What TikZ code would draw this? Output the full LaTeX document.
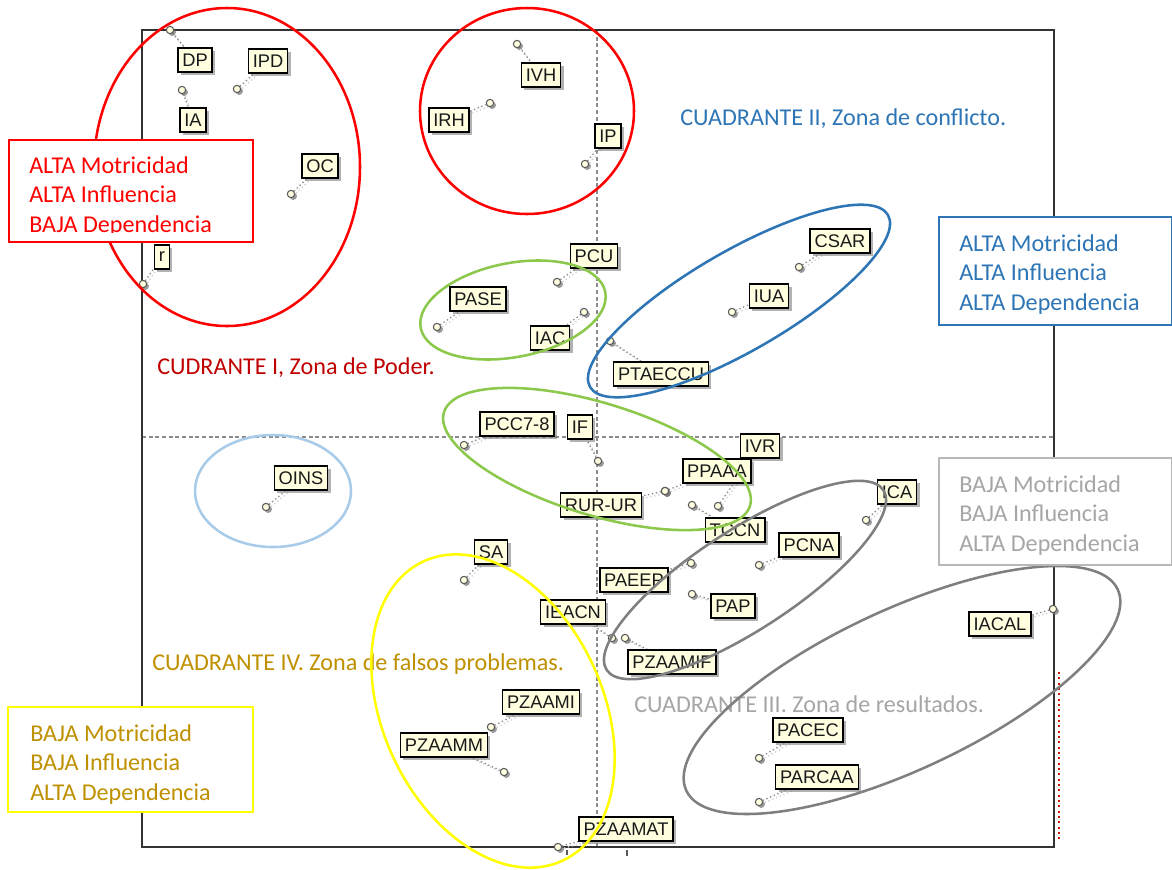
\documentclass[tikz,border=0pt]{standalone}
\usepackage{fontspec}
\setmainfont{Carlito}
\newfontfamily\labfamily{Liberation Sans}
\usetikzlibrary{shadows}
\definecolor{labfill}{HTML}{FFFFE0}
\definecolor{qred}{HTML}{FF0000}
\definecolor{qdarkred}{HTML}{C00000}
\definecolor{qblue}{HTML}{2E75B6}
\definecolor{qgray}{HTML}{A6A6A6}
\definecolor{qgold}{HTML}{BF9000}
\definecolor{qyellow}{HTML}{FFFF00}
\definecolor{egreen}{HTML}{8CC84B}
\definecolor{egray}{HTML}{7F7F7F}
\definecolor{elblue}{HTML}{A9CBEA}
\pgfdeclarelayer{bg}
\pgfdeclarelayer{fg}
\pgfsetlayers{bg,main,fg}
\begin{document}
\begin{tikzpicture}[x=0.75pt,y=-0.75pt,
  lab/.style={draw=black, line width=1.1pt, fill=labfill, text=black!90,
    font=\labfamily\fontsize{13.7}{16}\selectfont, inner xsep=3.3pt, inner ysep=0pt,
    minimum height=18pt,
    drop shadow={shadow xshift=2.2pt, shadow yshift=-2.2pt, fill=black!50, opacity=.6}},
  pt/.style={circle, draw=black!65, fill=labfill, line width=0.8pt, inner sep=0pt,
    minimum size=5.5pt,
    circular drop shadow={shadow xshift=1.4pt, shadow yshift=-1.4pt, fill=black!55, opacity=.7}},
  lead/.style={draw=black!45, dotted, line width=1pt},
  leadsh/.style={draw=black!18, dotted, line width=1pt},
  ell/.style={line width=1.9pt},
  callbox/.style={fill=white, line width=1.2pt},
  ctext/.style={font=\fontsize{18.1}{21}\selectfont, anchor=base west, inner sep=0pt},
  axis/.style={draw=black!45, line width=0.8pt, dash pattern=on 3pt off 2pt},
  frame/.style={draw=black!80, line width=1.2pt}]
\useasboundingbox (0,0) rectangle (1172,869);

% ---------- plot area ----------
\begin{pgfonlayer}{bg}
  \fill[white] (0,0) rectangle (1172,869);
  \draw[axis] (597,30) -- (597,847);
  \draw[axis] (142,437) -- (1054,437);
  \draw[frame] (142,30) rectangle (1054,847);
  \draw[qdarkred!80!orange, line width=1.3pt, dash pattern=on 1.5pt off 2.5pt] (1059,672) -- (1059,840);
  \draw[black!65, line width=0.9pt] (567,850) -- (567,855);
  \draw[black!65, line width=0.9pt] (627,850) -- (627,856);
\end{pgfonlayer}

% ---------- points ----------
\node[pt] (pDP) at (170,30) {};
\node[pt] (pIPD) at (237,89) {};
\node[pt] (pIA) at (182,90) {};
\node[pt] (pOC) at (291,194) {};
\node[pt] (pr) at (143,284) {};
\node[pt] (pIVH) at (517,44) {};
\node[pt] (pIRH) at (490,103) {};
\node[pt] (pIP) at (585,164) {};
\node[pt] (pPCU) at (557,282) {};
\node[pt] (pPASE) at (437,327) {};
\node[pt] (pIAC) at (584,312) {};
\node[pt] (pPTAECCU) at (610,341) {};
\node[pt] (pCSAR) at (799,267) {};
\node[pt] (pIUA) at (732,312) {};
\node[pt] (pPCC) at (464,445) {};
\node[pt] (pIF) at (598,461) {};
\node[pt] (pRUR) at (665,491) {};
\node[pt] (pPPAAA) at (665,491) {};
\node[pt] (pIVR) at (718,506) {};
\node[pt] (pTCCN) at (692,505) {};
\node[pt] (pICA) at (866,520) {};
\node[pt] (pPCNA) at (759,565) {};
\node[pt] (pPAEEP) at (691,563) {};
\node[pt] (pPAP) at (692,594) {};
\node[pt] (pIEACN) at (612,638) {};
\node[pt] (pPZAAMIF) at (625,638) {};
\node[pt] (pSA) at (464,580) {};
\node[pt] (pOINS) at (266,507) {};
\node[pt] (pIACAL) at (1053,609) {};
\node[pt] (pPACEC) at (759,758) {};
\node[pt] (pPARCAA) at (759,802) {};
\node[pt] (pPZAAMI) at (491,727) {};
\node[pt] (pPZAAMM) at (504,772) {};
\node[pt] (pPZAAMAT) at (558,847) {};

% ---------- labels ----------
\node[lab] (lDP) at (195,60) {DP};
\node[lab] (lIPD) at (268,61) {IPD};
\node[lab] (lIA) at (193,120) {IA};
\node[lab] (lOC) at (320,166) {OC};
\node[lab] (lr) at (162,257) {r};
\node[lab] (lIVH) at (541,75) {IVH};
\node[lab] (lIRH) at (449,120) {IRH};
\node[lab] (lIP) at (608,136) {IP};
\node[lab] (lPCU) at (594,256) {PCU};
\node[lab] (lPASE) at (478,299) {PASE};
\node[lab] (lIAC) at (550,338) {IAC};
\node[lab] (lPTAECCU) at (661,374) {PTAECCU};
\node[lab] (lCSAR) at (840,241) {CSAR};
\node[lab] (lIUA) at (769,296) {IUA};
\node[lab] (lPCC) at (517,424) {PCC7-8};
\node[lab] (lIF) at (580,427) {IF};
\node[lab] (lRUR) at (601,505) {RUR-UR};
\node[lab] (lIVR) at (760,446) {IVR};
\node[lab] (lPPAAA) at (717,471) {PPAAA};
\node[lab] (lTCCN) at (735,530) {TCCN};
\node[lab] (lICA) at (897,492) {ICA};
\node[lab] (lPCNA) at (809,545) {PCNA};
\node[lab] (lPAEEP) at (634,580) {PAEEP};
\node[lab] (lPAP) at (733,606) {PAP};
\node[lab] (lIEACN) at (573,612) {IEACN};
\node[lab] (lPZAAMIF) at (672,662) {PZAAMIF};
\node[lab] (lSA) at (491,552) {SA};
\node[lab] (lOINS) at (301,478) {OINS};
\node[lab] (lIACAL) at (1000,624) {IACAL};
\node[lab] (lPACEC) at (808,730) {PACEC};
\node[lab] (lPARCAA) at (817,777) {PARCAA};
\node[lab] (lPZAAMI) at (541,702) {PZAAMI};
\node[lab] (lPZAAMM) at (444,745) {PZAAMM};
\node[lab] (lPZAAMAT) at (626,829) {PZAAMAT};

% ---------- leader lines ----------
\begin{pgfonlayer}{bg}
\foreach \a in {DP,IPD,IA,OC,r,IVH,IRH,IP,PCU,PASE,IAC,PTAECCU,CSAR,IUA,PCC,IF,RUR,
    PPAAA,IVR,TCCN,ICA,PCNA,PAEEP,PAP,IEACN,PZAAMIF,SA,OINS,IACAL,PACEC,PARCAA,
    PZAAMI,PZAAMM,PZAAMAT}{
  \draw[leadsh] ([shift={(1.6pt,-1.6pt)}]p\a.center) -- ([shift={(1.6pt,-1.6pt)}]l\a.center);
  \draw[lead] (p\a.center) -- (l\a.center);
}
\end{pgfonlayer}

% ---------- quadrant titles ----------
\node[ctext, text=qblue] (t2) at (680,125) {CUADRANTE II, Zona de conflicto.};
\node[ctext, text=qdarkred] (t1) at (157,374) {CUDRANTE I, Zona de Poder.};
\node[ctext, text=qgold] (t4) at (152,670) {CUADRANTE IV. Zona de falsos problemas.};
\node[ctext, text=qgray] (t3) at (634,712) {CUADRANTE III. Zona de resultados.};

% ---------- groupings and legends ----------
\begin{pgfonlayer}{fg}
  \draw[ell, qred] (227,167) ellipse [x radius=133, y radius=159];
  \draw[ell, qred] (527,111) ellipse [x radius=107, y radius=103];
  \draw[ell, egreen, rotate around={11:(513,310)}] (513,310) ellipse [x radius=94, y radius=47];
  \draw[ell, qblue, rotate around={30:(739,301)}] (739,301) ellipse [x radius=172, y radius=50];
  \draw[ell, egreen, rotate around={-17:(597,459)}] (597,459) ellipse [x radius=160, y radius=56];
  \draw[ell, egray, rotate around={33:(745,580)}] (745,580) ellipse [x radius=165, y radius=50];
  \draw[ell, egray, rotate around={25:(902,690)}] (902,690) ellipse [x radius=238, y radius=80];
  \draw[ell, elblue] (273,491) ellipse [x radius=78, y radius=56];
  \draw[ell, qyellow, rotate around={25:(493,711)}] (493,711) ellipse [x radius=110, y radius=165];

  % legend: quadrant I
  \draw[callbox, draw=qred] (9,140) rectangle (253,242);
  \begin{scope}
    \clip (9,140) rectangle (253,232.5);
    \node[ctext, text=qred] (r1) at (29,173) {ALTA Motricidad};
    \node[ctext, text=qred] (r2) at (29,202.5) {ALTA Influencia};
    \node[ctext, text=qred] (r3) at (29,232) {BAJA Dependencia};
  \end{scope}
  % legend: quadrant II
  \draw[callbox, draw=qblue] (939,217) rectangle (1171.5,325);
  \node[ctext, text=qblue] (b1) at (959,251) {ALTA Motricidad};
  \node[ctext, text=qblue] (b2) at (959,280.5) {ALTA Influencia};
  \node[ctext, text=qblue] (b3) at (959,310) {ALTA Dependencia};
  % legend: quadrant III
  \draw[callbox, draw=black!28] (939,458) rectangle (1171.5,565);
  \node[ctext, text=qgray] (g1) at (959,492) {BAJA Motricidad};
  \node[ctext, text=qgray] (g2) at (959,521.5) {BAJA Influencia};
  \node[ctext, text=qgray] (g3) at (959,551) {ALTA Dependencia};
  % legend: quadrant IV
  \draw[callbox, draw=qyellow] (8,707) rectangle (253,812);
  \node[ctext, text=qgold] (y1) at (30,741) {BAJA Motricidad};
  \node[ctext, text=qgold] (y2) at (30,770.5) {BAJA Influencia};
  \node[ctext, text=qgold] (y3) at (30,800) {ALTA Dependencia};
\end{pgfonlayer}
\end{tikzpicture}
\end{document}
